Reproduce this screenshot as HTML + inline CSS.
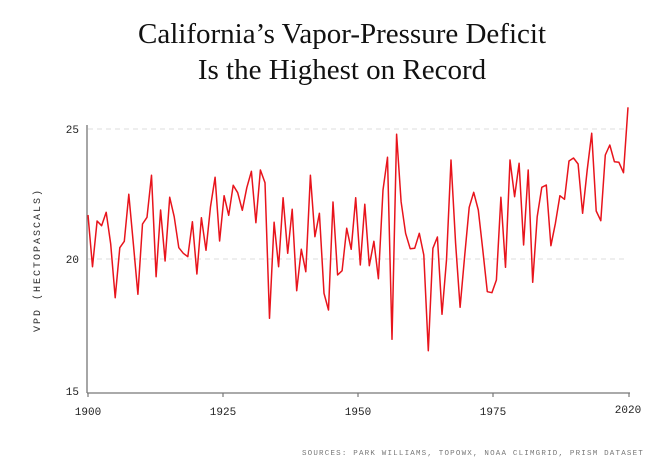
<!DOCTYPE html>
<html><head><meta charset="utf-8"><style>
body{margin:0;background:#fff;width:672px;height:469px;overflow:hidden}
svg{display:block}
</style></head><body>
<svg width="672" height="469" xmlns="http://www.w3.org/2000/svg">
<text x="342" y="43" text-anchor="middle" font-family="Liberation Serif, serif" font-size="29" fill="#111">California’s Vapor-Pressure Deficit</text>
<text x="342" y="79" text-anchor="middle" font-family="Liberation Serif, serif" font-size="29" fill="#111">Is the Highest on Record</text>
<line x1="88" y1="129" x2="628" y2="129" stroke="#ddd" stroke-dasharray="5,4"/>
<line x1="88" y1="259" x2="628" y2="259" stroke="#ddd" stroke-dasharray="5,4"/>
<line x1="87" y1="125" x2="87" y2="393" stroke="#777" stroke-width="1.3"/>
<line x1="87" y1="393" x2="630" y2="393" stroke="#777" stroke-width="1.3"/>
<g stroke="#777" stroke-width="1.2"><line x1="88" y1="393" x2="88" y2="397"/><line x1="223" y1="393" x2="223" y2="397"/><line x1="358" y1="393" x2="358" y2="397"/><line x1="493" y1="393" x2="493" y2="397"/><line x1="629" y1="393" x2="629" y2="397"/></g>
<g font-family="Liberation Mono, monospace" font-size="11" fill="#222">
<text x="79" y="133" text-anchor="end">25</text>
<text x="79" y="263" text-anchor="end">20</text>
<text x="79" y="395" text-anchor="end">15</text>
<text x="88" y="415" text-anchor="middle">1900</text>
<text x="223" y="415" text-anchor="middle">1925</text>
<text x="358" y="415" text-anchor="middle">1950</text>
<text x="493" y="415" text-anchor="middle">1975</text>
<text x="628" y="413" text-anchor="middle">2020</text>
</g>
<text transform="translate(40,260) rotate(-90)" text-anchor="middle" font-family="Liberation Mono, monospace" font-size="10" fill="#333" letter-spacing="2">VPD (HECTOPASCALS)</text>
<text x="644" y="455" text-anchor="end" font-family="Liberation Mono, monospace" font-size="7.5" fill="#777" letter-spacing="1.2">SOURCES: PARK WILLIAMS, TOPOWX, NOAA CLIMGRID, PRISM DATASET</text>
<polyline fill="none" stroke="#e8141c" stroke-width="1.5" stroke-linejoin="round" points="88,215 92.5,266.7 97.1,221 101.6,225.7 106.2,212.3 110.7,244 115.2,297.7 119.8,247.7 124.3,241.3 128.8,194.3 133.4,244.3 137.9,294.3 142.5,224 147,217.3 151.5,175.3 156.1,276.7 160.6,210 165.1,261 169.7,197.3 174.2,216.7 178.8,247.7 183.3,253.3 187.8,256.7 192.4,221.7 196.9,274 201.4,217.7 206,250.3 210.5,206.7 215.1,177.3 219.6,241 224.1,195.7 228.7,215.3 233.2,185.3 237.7,192.7 242.3,210.3 246.8,187.7 251.4,171.3 255.9,222.7 260.4,170 265,182.7 269.5,318.3 274.1,222.3 278.6,266.7 283.1,197.7 287.7,253.3 292.2,209.3 296.7,290.7 301.3,249.3 305.8,271.7 310.4,175.3 314.9,236.7 319.4,213.3 324,293.3 328.5,310 333,202 337.6,275 342.1,270.7 346.7,228.3 351.2,249.3 355.7,197.7 360.3,265 364.8,204.3 369.3,265.7 373.9,241.3 378.4,278.7 383,190 387.5,157.3 392,339.3 396.6,134.3 401.1,201.7 405.6,233.3 410.2,248.7 414.7,248.3 419.3,233.3 423.8,255 428.3,350.7 432.9,248.3 437.4,237 442,314.3 446.5,260 451,160 455.6,243.3 460.1,307.3 464.6,256.7 469.2,207.3 473.7,192.3 478.3,210 482.8,250 487.3,291.7 491.9,292.7 496.4,280 500.9,197.3 505.5,267.3 510,160 514.6,196.7 519.1,163.3 523.6,245 528.2,170 532.7,282.3 537.2,216.7 541.8,187.3 546.3,185 550.9,245.7 555.4,223.3 559.9,195.7 564.5,199.3 569,161 573.5,158 578.1,164 582.6,213.3 587.2,170 591.7,133.3 596.2,211 600.8,220.7 605.3,155 609.8,145 614.4,161.7 618.9,162.3 623.5,172.7 628,107.3"/>
</svg>
</body></html>
